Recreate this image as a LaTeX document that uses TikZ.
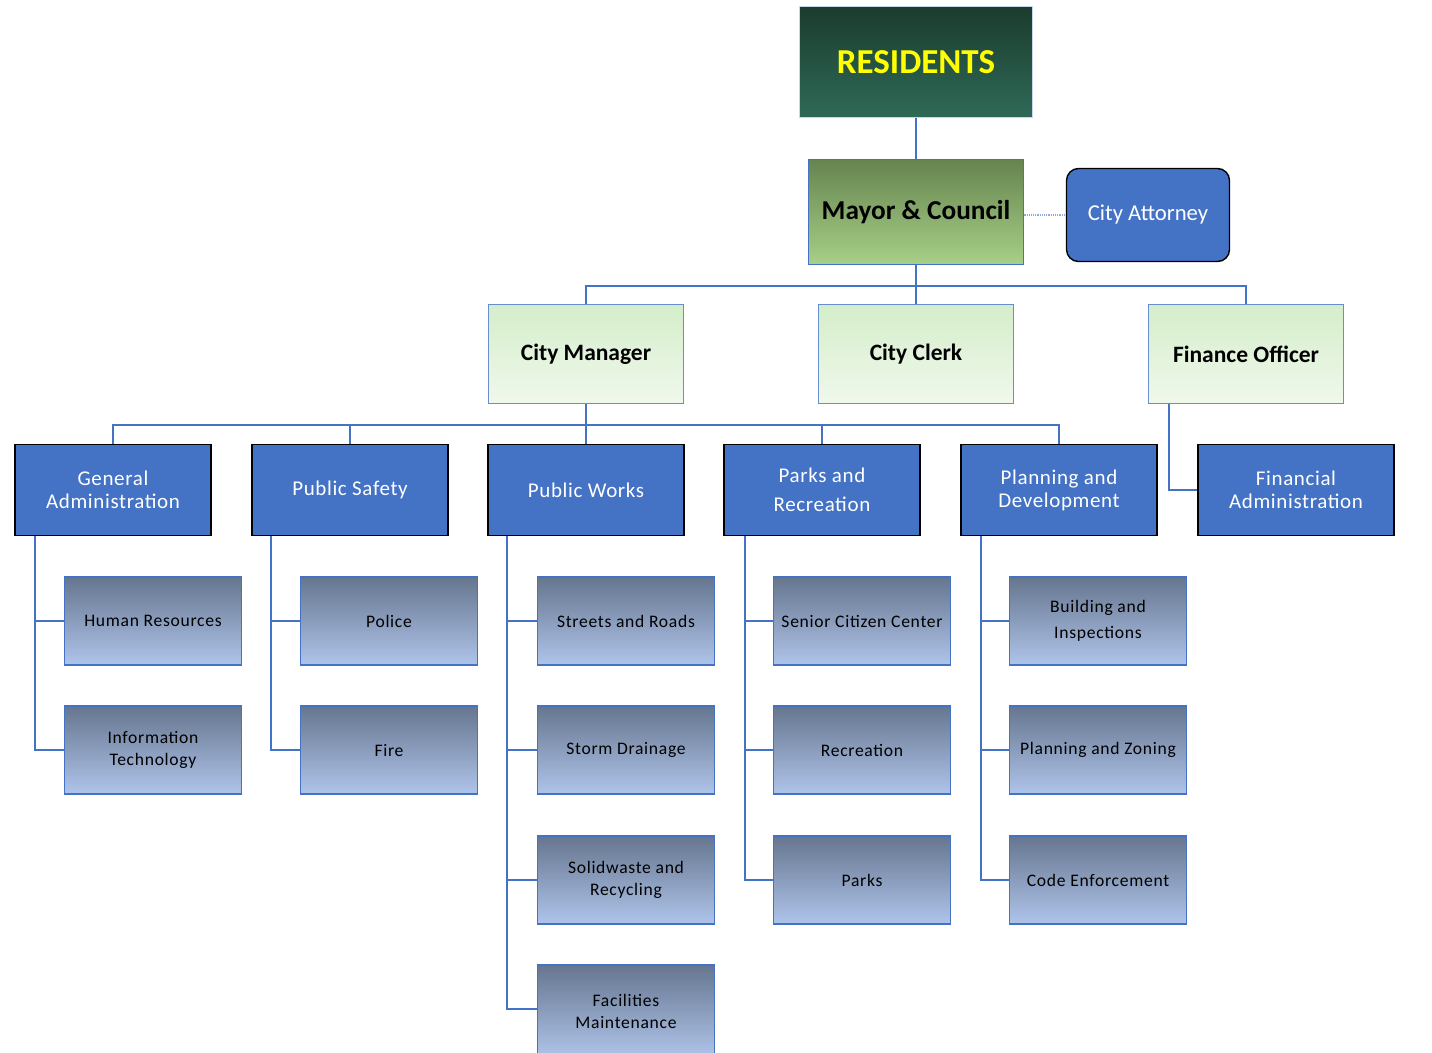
\documentclass[tikz,border=0pt]{standalone}
\usepackage{fontspec}
\setmainfont{Carlito}
\definecolor{orgblue}{HTML}{4472C4}
\definecolor{restop}{HTML}{1B3B2E}
\definecolor{resbot}{HTML}{2F6A56}
\definecolor{maytop}{HTML}{66844F}
\definecolor{maybot}{HTML}{A7D087}
\definecolor{offa}{HTML}{D4EECA}
\definecolor{offb}{HTML}{F0F8EC}
\definecolor{subtop}{HTML}{66768F}
\definecolor{subbot}{HTML}{AFC4EA}
\definecolor{resyellow}{HTML}{FFFF00}
\tikzset{
  conn/.style={draw=orgblue, line width=1.6bp},
  resbox/.style={draw=orgblue!30, line width=1bp, top color=restop, bottom color=resbot,
    minimum width=233bp, minimum height=111bp, inner sep=0pt,
    font=\fontsize{35bp}{40bp}\selectfont\bfseries, text=resyellow},
  mayorbox/.style={draw=orgblue, line width=1.6bp, top color=maytop, bottom color=maybot,
    minimum width=215bp, minimum height=105bp, inner sep=0pt,
    font=\fontsize{27.3bp}{31bp}\selectfont\bfseries},
  attybox/.style={draw=black, line width=1.4bp, fill=orgblue, rounded corners=12bp,
    minimum width=163bp, minimum height=93bp, inner sep=0pt,
    font=\fontsize{22.7bp}{26bp}\selectfont, text=white},
  officebox/.style={draw=orgblue!80, line width=1.4bp, top color=offa, bottom color=offb,
    minimum width=195bp, minimum height=99bp, inner sep=0pt,
    font=\fontsize{23.5bp}{27bp}\selectfont\bfseries},
  deptbox/.style={draw=black, line width=1.8bp, fill=orgblue,
    minimum width=196bp, minimum height=91bp, inner sep=0pt, align=center,
    font=\fontsize{21bp}{23bp}\selectfont\addfontfeature{LetterSpace=3}, text=white},
  unitbox/.style={draw=orgblue, line width=1.6bp, top color=subtop, bottom color=subbot,
    minimum width=177bp, minimum height=88bp, inner sep=0pt, align=center,
    font=\fontsize{17.6bp}{22bp}\selectfont\addfontfeature{LetterSpace=4}},
}
\begin{document}
\begin{tikzpicture}[x=1bp, y=-1bp]
  \useasboundingbox[fill=white] (0,0) rectangle (1432,1052);

  % top of the chart
  \node[resbox] (res) at (916,62) {RESIDENTS};
  \node[mayorbox] (mayor) at (916,212) {Mayor \& Council};
  \node[attybox] (atty) at (1148,215) {City Attorney};
  \draw[conn] (res.south) -- (mayor.north);
  \draw[orgblue!60, line width=1.2bp, densely dotted] (mayor.east |- atty.west) -- (atty.west);

  % officers
  \node[officebox] (mgr) at (586,354) {City Manager};
  \node[officebox] (clerk) at (916,354) {City Clerk};
  \node[officebox] (fin) at (1246,354) {Finance Officer};
  \coordinate (obus) at (916,286);
  \draw[conn] (mayor.south) -- (clerk.north);
  \draw[conn] (mgr.north) |- (obus) -| (fin.north);

  % departments
  \node[deptbox] (genadm) at (113,490) {General\\Administration};
  \node[deptbox] (safety) at (350,490) {Public Safety};
  \node[deptbox] (works) at (586,490) {Public Works};
  \node[deptbox] (parks) at (822,490) {Parks and\\[6bp]Recreation};
  \node[deptbox] (plan) at (1059,490) {Planning and\\Development};
  \node[deptbox] (finadm) at (1296,490) {Financial\\Administration};
  \coordinate (dbus) at (586,425);
  \draw[conn] (mgr.south) -- (dbus);
  \draw[conn] (genadm.north) |- (dbus) -| (plan.north);
  \draw[conn] (safety.north) -- (safety.north |- dbus);
  \draw[conn] (works.north) -- (works.north |- dbus);
  \draw[conn] (parks.north) -- (parks.north |- dbus);
  \draw[conn] (fin.south -| 1169,0) |- (finadm.west);

  % units
  \node[unitbox] (hr) at (153,621) {Human Resources};
  \node[unitbox] (it) at (153,750) {Information\\Technology};
  \draw[conn] (genadm.south -| 35,0) |- (hr.west);
  \draw[conn] (genadm.south -| 35,0) |- (it.west);

  \node[unitbox] (police) at (389,621) {Police};
  \node[unitbox] (fire) at (389,750) {Fire};
  \draw[conn] (safety.south -| 271,0) |- (police.west);
  \draw[conn] (safety.south -| 271,0) |- (fire.west);

  \node[unitbox] (streets) at (626,621) {Streets and Roads};
  \node[unitbox] (storm) at (626,750) {Storm Drainage};
  \node[unitbox] (waste) at (626,880) {Solidwaste and\\Recycling};
  \node[unitbox, minimum height=92bp] (facil) at (626,1011) {Facilities\\Maintenance};
  \draw[conn] (works.south -| 507,0) |- (streets.west);
  \draw[conn] (works.south -| 507,0) |- (storm.west);
  \draw[conn] (works.south -| 507,0) |- (waste.west);
  \draw[conn] (works.south -| 507,0) |- (facil.west |- 0,1009);

  \node[unitbox] (senior) at (862,621) {Senior Citizen Center};
  \node[unitbox] (recr) at (862,750) {Recreation};
  \node[unitbox] (park) at (862,880) {Parks};
  \draw[conn] (parks.south -| 745,0) |- (senior.west);
  \draw[conn] (parks.south -| 745,0) |- (recr.west);
  \draw[conn] (parks.south -| 745,0) |- (park.west);

  \node[unitbox] (build) at (1098,621) {Building and\\[4bp]Inspections};
  \node[unitbox] (zoning) at (1098,750) {Planning and Zoning};
  \node[unitbox] (code) at (1098,880) {Code Enforcement};
  \draw[conn] (plan.south -| 981,0) |- (build.west);
  \draw[conn] (plan.south -| 981,0) |- (zoning.west);
  \draw[conn] (plan.south -| 981,0) |- (code.west);
\end{tikzpicture}
\end{document}
